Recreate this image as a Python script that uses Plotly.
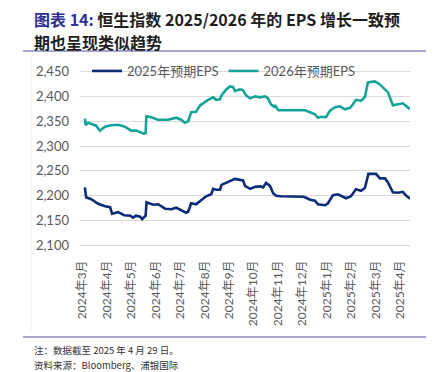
import plotly.graph_objects as go

# ---- data (x in months since 2024-03) ----
t_2026 = [0.11, 0.14, 0.24, 0.45, 0.57, 0.72, 0.93, 1.18, 1.47, 1.74, 2.00, 2.20, 2.41, 2.51, 2.59,
          2.62, 2.82, 3.10, 3.51, 3.84, 4.04, 4.19, 4.33, 4.45, 4.65, 4.82, 4.94, 5.14, 5.35, 5.47,
          5.63, 5.69, 5.88, 6.04, 6.16, 6.24, 6.45, 6.57, 6.69, 6.86, 7.06, 7.27, 7.47, 7.59, 7.71,
          7.84, 7.88, 8.02, 8.41, 9.02, 9.10, 9.31, 9.51, 9.63, 9.76, 9.96, 10.12, 10.33, 10.53,
          10.73, 10.94, 11.06, 11.18, 11.39, 11.55, 11.67, 11.96, 12.16, 12.37, 12.49, 12.69, 12.90,
          13.10, 13.22, 13.39]
eps_2026 = [2355, 2342, 2347, 2344, 2341, 2331, 2339, 2342, 2343, 2339, 2331, 2331, 2327, 2325, 2326,
            2360, 2358, 2353, 2353, 2357, 2353, 2347, 2350, 2368, 2369, 2382, 2386, 2393, 2398, 2393,
            2394, 2402, 2414, 2420, 2419, 2411, 2414, 2412, 2402, 2396, 2400, 2398, 2400, 2396, 2384,
            2379, 2381, 2372, 2372, 2372, 2372, 2368, 2364, 2357, 2359, 2358, 2371, 2378, 2380,
            2374, 2377, 2384, 2393, 2391, 2399, 2428, 2430, 2424, 2414, 2408, 2382, 2384,
            2386, 2381, 2374]

t_2025 = [0.11, 0.16, 0.37, 0.65, 0.94, 1.14, 1.22, 1.47, 1.71, 1.96, 2.08, 2.20, 2.37, 2.45, 2.53,
          2.59, 2.63, 2.90, 3.10, 3.39, 3.63, 3.84, 4.04, 4.24, 4.33, 4.45, 4.65, 4.86, 5.06, 5.27,
          5.35, 5.47, 5.63, 5.69, 5.88, 6.08, 6.24, 6.45, 6.57, 6.65, 6.86, 7.06, 7.27, 7.39, 7.51,
          7.67, 7.80, 7.92, 8.12, 9.02, 9.10, 9.31, 9.51, 9.63, 9.92, 10.04, 10.24, 10.45, 10.65,
          10.78, 10.98, 11.18, 11.39, 11.55, 11.69, 12.00, 12.16, 12.37, 12.49, 12.69, 12.90, 13.10,
          13.22, 13.39]
eps_2025 = [2217, 2197, 2193, 2184, 2179, 2177, 2164, 2167, 2161, 2160, 2156, 2160, 2158, 2153, 2157,
            2160, 2187, 2182, 2183, 2174, 2173, 2176, 2171, 2166, 2168, 2185, 2183, 2192, 2199, 2203,
            2214, 2212, 2212, 2222, 2226, 2231, 2234, 2232, 2231, 2220, 2214, 2218, 2219, 2217, 2226,
            2220, 2205, 2200, 2199, 2198, 2197, 2192, 2190, 2183, 2181, 2185, 2201, 2203, 2198,
            2195, 2199, 2213, 2210, 2216, 2244, 2244, 2235, 2235, 2227, 2207, 2206, 2208,
            2201, 2194]

tick_pos = list(range(14))
tick_text = ["2024年3月", "2024年4月", "2024年5月", "2024年6月", "2024年7月", "2024年8月",
             "2024年9月", "2024年10月", "2024年11月", "2024年12月", "2025年1月", "2025年2月",
             "2025年3月", "2025年4月"]
y_ticks = [2100, 2150, 2200, 2250, 2300, 2350, 2400, 2450]

NAVY = "#0B2C77"
TEAL = "#16A39A"
GREY = "#595959"
FONT = "Lato, 'Noto Sans CJK SC', sans-serif"
CJK = "'Noto Sans CJK SC', sans-serif"

W, H = 434, 372
L, R, T, B = 72, 32, 62, 133
PW, PH = W - L - R, H - T - B


def px(x):
    return (x - L) / PW


def py(y):
    return (H - B - y) / PH


fig = go.Figure()
fig.add_trace(go.Scatter(x=t_2025, y=eps_2025, mode="lines", name="2025年预期EPS",
                         line=dict(color=NAVY, width=2.6)))
fig.add_trace(go.Scatter(x=t_2026, y=eps_2026, mode="lines", name="2026年预期EPS",
                         line=dict(color=TEAL, width=2.6)))

fig.update_layout(
    width=W, height=H,
    margin=dict(l=L, r=R, t=T, b=B),
    paper_bgcolor="white", plot_bgcolor="white",
    showlegend=True,
    legend=dict(orientation="h", x=px(79), y=py(63), xanchor="left", yanchor="middle",
                font=dict(family=FONT, size=13, color=GREY), bgcolor="rgba(0,0,0,0)",
                itemwidth=30, tracegroupgap=0),
    xaxis=dict(range=[-0.09, 13.39], tickmode="array", tickvals=tick_pos, ticktext=tick_text,
               tickangle=-90, showgrid=False, zeroline=False, showline=False, ticks="",
               ticklabelstandoff=10,
               tickfont=dict(family=FONT, size=12, color=GREY)),
    yaxis=dict(range=[2097, 2453], tickmode="array", tickvals=y_ticks,
               tickformat=",d", showgrid=True, gridcolor="#D9D9D9", gridwidth=1,
               zeroline=False, showline=False, ticks="", ticklabelstandoff=10,
               tickfont=dict(family=FONT, size=13, color=GREY)),
)

# title
fig.add_annotation(xref="paper", yref="paper", x=px(24), y=py(11), xanchor="left", yanchor="middle",
                   showarrow=False, align="left",
                   text="<b><span style='color:#2E3192'>图表 14:</span> 恒生指数 2025/2026 年的 EPS 增长一致预</b>",
                   font=dict(family=CJK, size=16, color="#1F1F1F"))
fig.add_annotation(xref="paper", yref="paper", x=px(24), y=py(34), xanchor="left", yanchor="middle",
                   showarrow=False, align="left",
                   text="<b>期也呈现类似趋势</b>",
                   font=dict(family=CJK, size=16, color="#1F1F1F"))
# footnotes
fig.add_annotation(xref="paper", yref="paper", x=px(24), y=py(342), xanchor="left", yanchor="middle",
                   showarrow=False, text="注：数据截至 2025 年 4 月 29 日。",
                   font=dict(family=CJK, size=9.5, color="#333333"))
fig.add_annotation(xref="paper", yref="paper", x=px(24), y=py(357), xanchor="left", yanchor="middle",
                   showarrow=False, text="资料来源：Bloomberg、浦银国际",
                   font=dict(family=CJK, size=9.5, color="#333333"))

# separator lines and faint frame edge
fig.add_shape(type="line", xref="paper", yref="paper", x0=px(15), x1=px(426), y0=py(43), y1=py(43),
              line=dict(color="#8A8AC0", width=1.5))
fig.add_shape(type="line", xref="paper", yref="paper", x0=px(15), x1=px(426), y0=py(329), y1=py(329),
              line=dict(color="#8A8AC0", width=1.5))
fig.add_shape(type="line", xref="paper", yref="paper", x0=px(23), x1=px(23), y0=py(48), y1=py(322),
              line=dict(color="#EEEEEE", width=1))

fig.write_html("out.html")
